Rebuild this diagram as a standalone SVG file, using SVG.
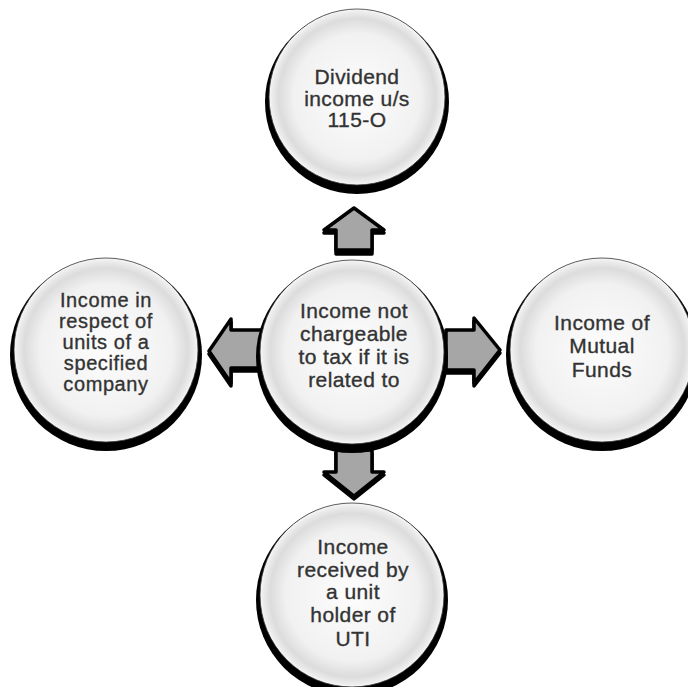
<svg xmlns="http://www.w3.org/2000/svg" width="688" height="687" viewBox="0 0 688 687">
<defs>
<radialGradient id="g" cx="0.5" cy="0.5" r="0.5">
<stop offset="0" stop-color="#fdfdfd"/>
<stop offset="0.72" stop-color="#f1f1f1"/>
<stop offset="0.89" stop-color="#dcdcdc"/>
<stop offset="0.96" stop-color="#ebebeb"/>
<stop offset="1" stop-color="#f7f7f7"/>
</radialGradient>
<filter id="b" x="-20%" y="-20%" width="140%" height="140%"><feGaussianBlur stdDeviation="0.5"/></filter>
<style>
.sh{fill:#000;filter:url(#b)}
.c{fill:url(#g);stroke:#333;stroke-width:0.8}
.a{fill:#a6a6a6;stroke:#000;stroke-width:3.5;stroke-linejoin:round}
.as{fill:#000;stroke:#000;stroke-width:3.5;stroke-linejoin:round;filter:url(#b)}
text{font-family:"Liberation Sans",Arial,sans-serif;font-size:21px;fill:#333;stroke:#333;stroke-width:0.35;text-anchor:middle;letter-spacing:0.4px}
.s{font-size:20px;letter-spacing:0.6px}
</style>
</defs>
<rect width="688" height="687" fill="#fff"/>
<g id="connectors">
<path class="as" d="M354,211 L384,233 L372,233 L372,254 L336,254 L336,233 L324,233 Z"/>
<path class="a" d="M354,208 L384,230 L372,230 L372,250 L336,250 L336,230 L324,230 Z"/>
<path class="as" d="M354,499 L384,475 L372,475 L372,453 L336,453 L336,475 L324,475 Z"/>
<path class="a" d="M354,496 L384,472 L372,472 L372,450 L336,450 L336,472 L324,472 Z"/>
<path class="as" d="M209,354 L231,322 L231,333 L262,333 L262,371 L231,371 L231,386 Z"/>
<path class="a" d="M209,351 L231,319 L231,330 L262,330 L262,368 L231,368 L231,383 Z"/>
<path class="as" d="M500,353 L474,321 L474,333 L446,333 L446,373 L474,373 L474,386 Z"/>
<path class="a" d="M500,350 L474,318 L474,330 L446,330 L446,370 L474,370 L474,383 Z"/>
</g>
<g id="top">
<circle class="sh" cx="357" cy="102" r="92"/>
<circle class="c" cx="357" cy="97" r="88"/>
<text x="357" y="84">Dividend</text>
<text x="357" y="106">income u/s</text>
<text x="357" y="127">115-O</text>
</g>
<g id="center">
<circle class="sh" cx="352" cy="357" r="96"/>
<circle class="c" cx="352" cy="352" r="92"/>
<text x="354" y="318">Income not</text>
<text x="354" y="341">chargeable</text>
<text x="354" y="364">to tax if it is</text>
<text x="354" y="387">related to</text>
</g>
<g id="left">
<circle class="sh" cx="106" cy="355" r="96"/>
<circle class="c" cx="106" cy="350" r="92"/>
<text class="s" x="106" y="307">Income in</text>
<text class="s" x="106" y="328">respect of</text>
<text class="s" x="106" y="349">units of a</text>
<text class="s" x="106" y="370">specified</text>
<text class="s" x="106" y="391">company</text>
</g>
<g id="right">
<circle class="sh" cx="602" cy="355" r="96"/>
<circle class="c" cx="602" cy="350" r="92"/>
<text x="602" y="330">Income of</text>
<text x="602" y="353">Mutual</text>
<text x="602" y="377">Funds</text>
</g>
<g id="bottom">
<circle class="sh" cx="352" cy="600" r="96"/>
<circle class="c" cx="352" cy="595" r="92"/>
<text x="353" y="554">Income</text>
<text x="353" y="577">received by</text>
<text x="353" y="599">a unit</text>
<text x="353" y="622">holder of</text>
<text x="353" y="646">UTI</text>
</g>
</svg>
